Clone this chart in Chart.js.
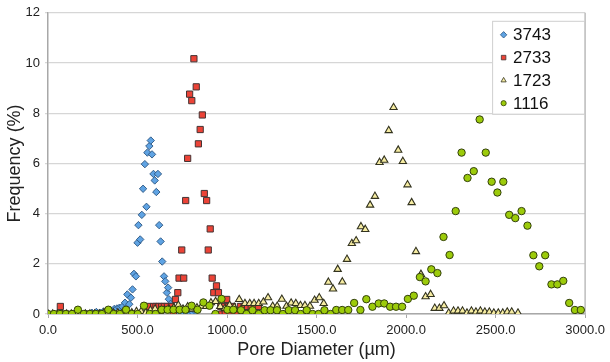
<!DOCTYPE html>
<html>
<head>
<meta charset="utf-8">
<script src="https://cdn.jsdelivr.net/npm/chart.js@4/dist/chart.umd.min.js"></script>
<style>
  html, body { margin: 0; padding: 0; background: #fff; }
  #wrap { width: 610px; height: 362px; }
</style>
</head>
<body>
<div id="wrap"><canvas id="c"></canvas></div>
<script>
// Pore size distributions (diameter in µm, frequency in %) for four samples
const seriesLabels = ['3743', '2733', '1723', '1116'];

const x3743 = [0, 35, 70, 105, 140, 175, 210, 245, 270, 290, 310, 330, 350, 370, 385, 399, 415, 430,
  443, 454, 463, 472, 480, 491, 500, 505, 515, 524, 531, 541, 550, 555, 566, 574, 581, 589, 596, 605,
  614, 621, 629, 638, 648, 655, 664, 671, 675, 684, 695, 706, 718, 730, 745, 760, 775, 790, 800, 810, 825];
const y3743 = [0, 0, 0, 0, 0, 0, 0.02, 0.05, 0.08, 0.05, 0.1, 0.12, 0.15, 0.2, 0.22, 0.25, 0.29, 0.45,
  0.78, 0.39, 0.65, 0.98, 1.6, 1.5, 2.84, 3.54, 2.97, 3.95, 4.99, 5.97, 4.27, 6.43, 6.69, 6.91, 6.36, 5.58, 5.32, 4.86,
  5.58, 3.54, 2.89, 2.09, 1.5, 1.3, 0.85, 1.05, 0.59, 0.4, 0.25, 0.15, 0.1, 0.08, 0.05, 0.03, 0, 0, 0.02, 0.05, 0.1];

const x2733 = [69, 100, 140, 180, 220, 260, 300, 340, 380, 420, 460, 500, 540, 560, 580, 590, 603, 620, 635,
  650, 667, 689, 700, 712, 725, 732, 758, 747, 769, 780, 791, 803, 815, 828, 840, 850, 862, 873, 886, 895,
  906, 917, 926, 941, 952, 965, 970, 985, 990, 998, 1010, 1015, 1030, 1040, 1060, 1075, 1080, 1095,
  1100, 1115, 1120, 1135, 1140, 1155, 1160, 1175];
const y2733 = [0.3, 0, 0, 0, 0, 0, 0, 0, 0, 0, 0, 0, 0, 0.3, 0, 0.3, 0.3, 0.3, 0.3,
  0.3, 0.3, 0.3, 0, 0.58, 0.85, 1.43, 1.43, 2.55, 4.52, 6.2, 8.76, 8.5, 10.17, 9.05, 6.78, 7.35, 7.93, 4.8, 4.52, 2.55,
  3.39, 1.43, 0.85, 1.12, 0.85, 0.3, 0, 0.3, 0.05, 0.58, 0.3, 0, 0.3, 0, 0, 0.3, 0, 0.3,
  0.05, 0.3, 0, 0.3, 0, 0.3, 0, 0.3];

const x1723 = [0, 26, 52, 78, 104, 130, 156, 182, 208, 234, 260, 286, 312, 338, 364, 390, 416, 442, 468,
  494, 520, 546, 572, 598, 624, 650, 676, 702, 728, 754, 780, 806, 832, 858, 884, 910, 936, 962, 988, 1014,
  1040, 1068, 1100, 1127, 1151, 1177, 1203, 1229, 1255, 1280, 1306, 1332, 1358, 1384, 1410, 1435, 1463,
  1489, 1515, 1540, 1566, 1592, 1618, 1644, 1670, 1697, 1721, 1748, 1772, 1799, 1826, 1852, 1878, 1903,
  1930, 1956, 1982, 2008, 2031, 2055, 2083, 2109, 2137, 2160, 2186, 2212, 2238, 2265, 2290, 2315, 2340,
  2365, 2390, 2415, 2440, 2465, 2490, 2515, 2540, 2565, 2590, 2625];
const y1723 = [0, 0, 0, 0, 0, 0, 0, 0, 0, 0, 0, 0, 0.05, 0.05, 0.05, 0.05, 0.05, 0.05, 0.05,
  0.1, 0.1, 0.05, 0.15, 0.2, 0.1, 0.15, 0.2, 0.25, 0.35, 0.2, 0.29, 0.2, 0.25, 0.31, 0.3, 0.45, 0.5, 0.3, 0.22, 0.35,
  0.27, 0.58, 0.42, 0.42, 0.42, 0.42, 0.48, 0.65, 0.31, 0.31, 0.59, 0.31, 0.44, 0.42, 0.34, 0.34, 0.31,
  0.55, 0.65, 0.42, 1.27, 1.0, 1.78, 1.28, 2.18, 2.81, 2.92, 3.48, 3.37, 4.34, 4.69, 6.04, 6.13, 7.31,
  8.23, 6.53, 6.08, 5.15, 4.44, 2.49, 1.58, 0.69, 0.78, 0.23, 0.23, 0.33, 0.04, 0.12, 0.12, 0.12, 0.04,
  0.12, 0.08, 0.12, 0.08, 0.08, 0.04, 0.04, 0.04, 0.08, 0.08, 0.04];

const x1116 = [0, 33, 67, 100, 134, 167, 200, 234, 267, 301, 337, 367, 401, 436, 468, 501, 536, 568, 601,
  635, 668, 701, 735, 768, 802, 835, 868, 902, 935, 969, 1002, 1035, 1078, 1109, 1142, 1177, 1210, 1243,
  1279, 1312, 1345, 1380, 1411, 1445, 1478, 1511, 1544, 1578, 1610, 1643, 1677, 1710, 1745, 1778, 1812,
  1847, 1878, 1911, 1944, 1978, 2010, 2043, 2077, 2109, 2141, 2175, 2209, 2243, 2277, 2310, 2343, 2378,
  2411, 2445, 2478, 2510, 2543, 2576, 2610, 2645, 2678, 2711, 2744, 2777, 2812, 2845, 2878, 2911, 2943, 2976];
const y1116 = [0, 0, 0, 0, 0, 0.17, 0, 0, 0, 0, 0.17, 0, 0, 0.17, 0, 0, 0.33, 0, 0,
  0.17, 0.17, 0.17, 0.17, 0.17, 0.33, 0.17, 0.46, 0.33, 0, 0.6, 0.17, 0.17, 0.15, 0, 0.15, 0, 0.15, 0.15,
  0.15, 0, 0.15, 0.15, 0, 0.15, 0, 0, 0.15, 0, 0.16, 0.16, 0.16, 0.44, 0.16, 0.59, 0.29,
  0.42, 0.42, 0.29, 0.29, 0.29, 0.6, 0.73, 1.47, 1.3, 1.78, 1.63, 3.07, 2.35, 4.1, 6.43, 5.42, 5.69,
  7.75, 6.43, 5.27, 4.84, 5.27, 3.95, 3.82, 4.1, 3.52, 2.34, 1.9, 2.34, 1.18, 1.18, 1.32, 0.44, 0.16, 0.16];

const xTickStep = 500;
const yTickStep = 2;

function toPoints(xs, ys) {
  return xs.map((x, i) => ({ x: x, y: ys[i] }));
}

const FONT = "'Liberation Sans', Arial, Helvetica, sans-serif";

// Legend drawn inside the plot area, top-right corner
const insideLegend = {
  id: 'insideLegend',
  afterDraw(chart) {
    const { ctx, chartArea } = chart;
    const w = 92, h = 93;
    const left = chartArea.right - w - 1;
    const top = chartArea.top + 8;
    ctx.save();
    ctx.fillStyle = '#ffffff';
    ctx.fillRect(left, top, w, h);
    ctx.strokeStyle = '#cfcfcf';
    ctx.lineWidth = 1;
    ctx.strokeRect(left + 0.5, top + 0.5, w, h);
    chart.data.datasets.forEach((ds, i) => {
      const cy = top + 14 + i * 22.8;
      ctx.fillStyle = ds.backgroundColor;
      ctx.strokeStyle = ds.borderColor;
      ctx.lineWidth = 0.8;
      Chart.helpers.drawPoint(ctx, {
        pointStyle: ds.pointStyle, radius: ds.legendRadius, rotation: 0, borderWidth: 0.8
      }, left + 11.5, cy);
      ctx.fillStyle = '#111';
      ctx.font = '17px ' + FONT;
      ctx.textBaseline = 'middle';
      ctx.textAlign = 'left';
      ctx.fillText(ds.label, left + 21, cy + 1);
    });
    ctx.restore();
  }
};

// Right-hand frame line of the plot area
const plotFrame = {
  id: 'plotFrame',
  beforeDatasetsDraw(chart) {
    const { ctx, chartArea } = chart;
    ctx.save();
    ctx.strokeStyle = '#bdbdbd';
    ctx.lineWidth = 1.5;
    ctx.beginPath();
    ctx.moveTo(chartArea.right, chartArea.top);
    ctx.lineTo(chartArea.right, chartArea.bottom);
    ctx.stroke();
    ctx.restore();
  }
};

new Chart(document.getElementById('c'), {
  type: 'scatter',
  data: {
    datasets: [
      {
        label: seriesLabels[0], data: toPoints(x3743, y3743),
        pointStyle: 'rectRot', pointRadius: 3.7, backgroundColor: '#5fa3e3', borderColor: '#2a5580',
        borderWidth: 0.9, legendRadius: 3.2, order: 3
      },
      {
        label: seriesLabels[1], data: toPoints(x2733, y2733),
        pointStyle: 'rect', pointRadius: 4.4, backgroundColor: '#ec4337', borderColor: '#443434',
        borderWidth: 1, legendRadius: 3.2, order: 2
      },
      {
        label: seriesLabels[2], data: toPoints(x1723, y1723),
        pointStyle: 'triangle', pointRadius: 4.2, backgroundColor: '#f6eca2', borderColor: '#33331f',
        borderWidth: 1.1, legendRadius: 3.0, order: 1
      },
      {
        label: seriesLabels[3], data: toPoints(x1116, y1116),
        pointStyle: 'circle', pointRadius: 3.7, backgroundColor: '#9ccb0a', borderColor: '#33400c',
        borderWidth: 1, legendRadius: 2.6, order: 0
      }
    ]
  },
  options: {
    responsive: true,
    maintainAspectRatio: false,
    animation: false,
    events: [],
    layout: { padding: { top: 0, right: 0, bottom: 0, left: 0 } },
    plugins: {
      legend: { display: false },
      tooltip: { enabled: false }
    },
    scales: {
      x: {
        type: 'linear', min: 0, max: 3000,
        afterFit(scale) { scale.height = 48; },
        border: { display: true, color: '#a8a8a8', width: 1.5 },
        grid: { drawOnChartArea: false, drawTicks: true, tickLength: 4, color: '#a8a8a8' },
        ticks: {
          stepSize: xTickStep, padding: 5, color: '#222',
          font: { family: FONT, size: 13 },
          callback: v => Number(v).toFixed(1)
        },
        title: {
          display: true, text: 'Pore Diameter (µm)', color: '#222',
          font: { family: FONT, size: 18 }, padding: { top: 0, bottom: 1 }
        }
      },
      y: {
        type: 'linear', min: 0, max: 12,
        afterFit(scale) { scale.width = 48; },
        border: { display: true, color: '#a8a8a8', width: 1.5 },
        grid: { color: '#d6d6d6', lineWidth: 1.3, drawTicks: true, tickLength: 3 },
        ticks: {
          stepSize: yTickStep, padding: 5, color: '#222',
          font: { family: FONT, size: 13 }
        },
        title: {
          display: true, text: 'Frequency (%)', color: '#222',
          font: { family: FONT, size: 18 }, padding: { top: 4, bottom: 0 }
        }
      }
    }
  },
  plugins: [plotFrame, insideLegend]
});
</script>
</body>
</html>
